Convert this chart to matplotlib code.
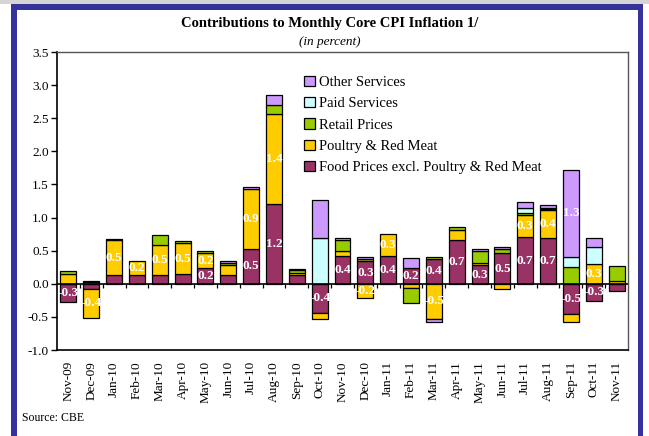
import numpy as np
import matplotlib
matplotlib.use("Agg")
import matplotlib.pyplot as plt
from matplotlib.patches import Rectangle

# ---------------------------------------------------------------------
# Data
months = ["Nov-09", "Dec-09", "Jan-10", "Feb-10", "Mar-10", "Apr-10", "May-10",
          "Jun-10", "Jul-10", "Aug-10", "Sep-10", "Oct-10", "Nov-10", "Dec-10",
          "Jan-11", "Feb-11", "Mar-11", "Apr-11", "May-11", "Jun-11", "Jul-11",
          "Aug-11", "Sep-11", "Oct-11", "Nov-11"]

food    = [-0.27, -0.08, 0.13, 0.13, 0.13, 0.15, 0.24, 0.13, 0.53, 1.21, 0.14, -0.44, 0.42,
           0.34, 0.42, 0.24, 0.38, 0.66, 0.28, 0.46, 0.70, 0.69, -0.46, -0.26, -0.11]
poultry = [0.15, -0.43, 0.53, 0.22, 0.46, 0.46, 0.22, 0.15, 0.90, 1.36, 0.02, -0.09, 0.07,
           -0.22, 0.33, -0.07, -0.53, 0.15, 0.04, -0.08, 0.34, 0.42, -0.11, 0.30, 0.04]
retail  = [0.05, 0.03, 0.01, 0.0, 0.15, 0.03, 0.03, 0.04, 0.0, 0.13, 0.05, 0.0, 0.17,
           0.04, 0.0, -0.22, 0.03, 0.04, 0.18, 0.07, 0.03, 0.02, 0.26, 0.0, 0.23]
paid    = [0.0, 0.0, 0.0, 0.0, 0.0, 0.0, 0.0, 0.0, 0.0, 0.0, 0.0, 0.69, 0.0,
           0.0, 0.0, 0.0, 0.0, 0.0, 0.0, 0.0, 0.08, 0.02, 0.15, 0.25, 0.0]
other   = [0.0, 0.01, 0.0, 0.0, 0.0, 0.0, 0.0, 0.02, 0.03, 0.15, 0.01, 0.57, 0.03,
           0.03, 0.0, 0.15, -0.04, 0.0, 0.03, 0.02, 0.08, 0.04, 1.31, 0.14, 0.0]

series = [
    ("Food Prices excl. Poultry & Red Meat", food,    "#993366", 0.2),
    ("Poultry & Red Meat",                   poultry, "#FFCC00", 0.2),
    ("Retail Prices",                        retail,  "#99CC00", None),
    ("Paid Services",                        paid,    "#CCFFFF", None),
    ("Other Services",                       other,   "#CC99FF", 1.0),
]

plt.rcParams["font.family"] = ["Liberation Serif", "DejaVu Serif"]
plt.rcParams["axes.unicode_minus"] = False

W, H = 649, 436
fig = plt.figure(figsize=(W / 100, H / 100), dpi=100)

# ---------------------------------------------------------------------
# Frame: grey strip on top, blue border
fig.patches.append(Rectangle((0, 1 - 4 / H), 1, 4 / H, transform=fig.transFigure,
                             facecolor="#d4d4d4", edgecolor="none", zorder=0))
blue = "#333399"
fig.patches.append(Rectangle((11 / W, 0), 6 / W, 1 - 4 / H, transform=fig.transFigure,
                             facecolor=blue, edgecolor="none", zorder=0))
fig.patches.append(Rectangle((638 / W, 0), 5 / W, 1 - 4 / H, transform=fig.transFigure,
                             facecolor=blue, edgecolor="none", zorder=0))
fig.patches.append(Rectangle((11 / W, 1 - 10 / H), 632 / W, 6 / H, transform=fig.transFigure,
                             facecolor=blue, edgecolor="none", zorder=0))

ax = fig.add_axes([57 / W, 1 - 350 / H, 571 / W, 298 / H])

x = np.arange(len(months))
pos_bottom = np.zeros(len(months))
neg_bottom = np.zeros(len(months))
handles = []
for name, vals, col, lab_min in series:
    vals = np.array(vals)
    bottoms = np.where(vals >= 0, pos_bottom, neg_bottom)
    mask = vals != 0
    bars = ax.bar(x[mask], vals[mask], bottom=bottoms[mask], width=0.7,
                  color=col, edgecolor="black", linewidth=0.9, label=name, zorder=3)
    handles.append(bars)
    if lab_min is not None:
        for xi, v, b in zip(x, vals, bottoms):
            if abs(v) >= lab_min:
                ax.text(xi, b + v / 2, f"{v:.1f}", ha="center", va="center",
                        color="white", fontsize=9.5, fontweight="bold", zorder=4)
    pos_bottom = pos_bottom + np.where(vals > 0, vals, 0)
    neg_bottom = neg_bottom + np.where(vals < 0, vals, 0)

# zero line with category separators
ax.axhline(0, color="black", lw=1.2, zorder=5)
ax.vlines(x[:-1] + 0.5, -0.06, 0, color="black", lw=0.9, zorder=5)

ax.set_xlim(-0.5, len(months) - 0.5)
ax.set_ylim(-1.0, 3.5)
ax.set_yticks(np.arange(-1.0, 3.51, 0.5))
ax.set_yticklabels([f"{v:.1f}" for v in np.arange(-1.0, 3.51, 0.5)])
ax.set_xticks(x)
ax.set_xticklabels(months, rotation=90)
ax.tick_params(axis="x", length=0, pad=8, labelsize=9.5)
ax.tick_params(axis="y", direction="out", length=4, width=1, labelsize=9.5, pad=2)
for side in ["left", "bottom"]:
    ax.spines[side].set_color("black")
    ax.spines[side].set_linewidth(1.2)
for side in ["top", "right"]:
    ax.spines[side].set_color("#555555")
    ax.spines[side].set_linewidth(1)

leg = ax.legend(handles[::-1], [s[0] for s in series][::-1], loc="upper left",
                bbox_to_anchor=(0.423, 0.94), frameon=False, fontsize=10.5,
                handlelength=0.7, handleheight=0.7, handletextpad=0.3,
                labelspacing=0.56, borderaxespad=0)

fig.text(330 / W, 1 - 24 / H, "Contributions to Monthly Core CPI Inflation 1/",
         ha="center", va="center", fontsize=10.5, fontweight="bold")
fig.text(330 / W, 1 - 42 / H, "(in percent)", ha="center", va="center",
         fontsize=9.5, style="italic")
fig.text(22 / W, 1 - 418 / H, "Source: CBE", ha="left", va="center", fontsize=8.5)

fig.savefig("out.png", dpi=100)
